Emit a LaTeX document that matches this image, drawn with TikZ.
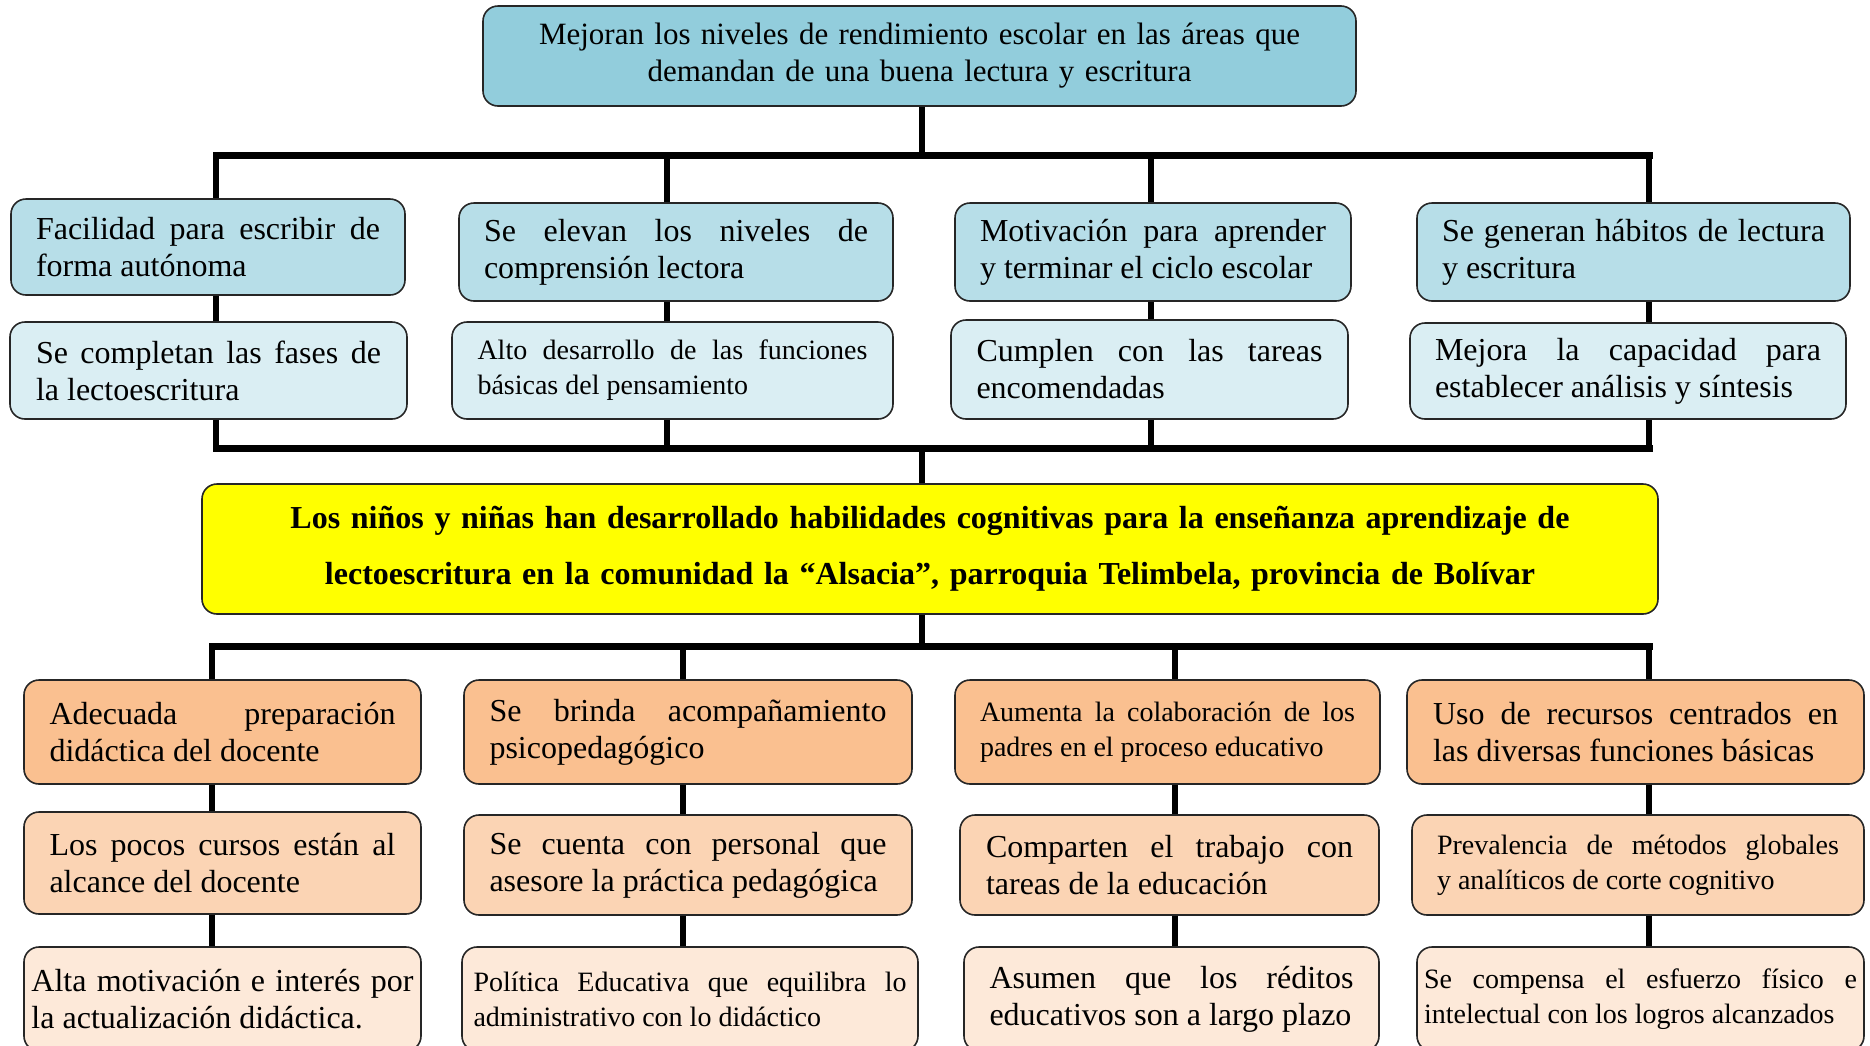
\documentclass[tikz,border=0pt]{standalone}
\usepackage{fontspec}
\setmainfont{Liberation Serif}
\hyphenpenalty=10000
\definecolor{azulcab}{HTML}{92CDDC}
\definecolor{azuluno}{HTML}{B7DEE8}
\definecolor{azuldos}{HTML}{DAEEF3}
\definecolor{amarillo}{HTML}{FFFF00}
\definecolor{naranjauno}{HTML}{FAC090}
\definecolor{naranjados}{HTML}{FBD4B4}
\definecolor{naranjatres}{HTML}{FDE9D9}
\newcommand{\textonormal}{\fontsize{16pt}{18.5pt}\selectfont}
\newcommand{\textochico}{\fontsize{14pt}{17.5pt}\selectfont}
\tikzset{
  caja/.style={draw=black!85, line width=0.8pt, rounded corners=7.5pt, inner sep=0pt,
    align=justify, font=\textonormal},
  medidas/.style n args={3}{minimum width=#1pt, minimum height=#2pt, text width=#3pt},
  chico/.style={font=\textochico},
  conector/.style={line width=3pt},
  barra/.style={line width=3.5pt, line cap=rect},
}
\begin{document}
\begin{tikzpicture}[x=0.5pt, y=-0.5pt]
  \useasboundingbox (0,0) rectangle (1870,1045);
  \clip (0,0) rectangle (1870,1045);

  \node[caja, fill=azulcab, medidas={436.5}{50}{430}, align=center,
    font=\fontsize{15.5pt}{18.5pt}\selectfont] (T) at (919.5,56)
    {Mejoran los niveles de rendimiento escolar en las áreas que\\demandan de una buena lectura y escritura};

  \node[caja, fill=azuluno, medidas={197}{48}{172}] (A1) at (208,247)
    {Facilidad para escribir de \linebreak forma autónoma};
  \node[caja, fill=azuluno, medidas={217}{49}{192}] (B1) at (676,252)
    {Se elevan los niveles de \linebreak comprensión lectora};
  \node[caja, fill=azuluno, medidas={198}{49}{173}] (C1) at (1153,252)
    {Motivación para aprender \linebreak y terminar el ciclo escolar};
  \node[caja, fill=azuluno, medidas={216.5}{49}{191.5}] (D1) at (1633.5,252)
    {Se generan hábitos de lectura \linebreak y escritura};

  \node[caja, fill=azuldos, medidas={198.5}{48.5}{172.5}] (A2) at (208.5,370.5)
    {Se completan las fases de \linebreak la lectoescritura};
  \node[caja, chico, fill=azuldos, medidas={220.5}{48.5}{195}] (B2) at (672.5,370.5)
    {Alto desarrollo de las funciones \linebreak básicas del pensamiento};
  \node[caja, fill=azuldos, medidas={198.5}{49.5}{173}] (C2) at (1149.5,369.5)
    {Cumplen con las tareas \linebreak encomendadas};
  \node[caja, fill=azuldos, medidas={218}{48}{193}] (D2) at (1628,371)
    {Mejora la capacidad para \linebreak establecer análisis y síntesis};

  \node[caja, fill=amarillo, medidas={728}{65}{715}, align=center,
    font=\fontsize{16pt}{28pt}\selectfont\bfseries] (Y) at (930,549)
    {Los niños y niñas han desarrollado habilidades cognitivas para la enseñanza aprendizaje de\\
     lectoescritura en la comunidad la “Alsacia”, parroquia Telimbela, provincia de Bolívar};

  \node[caja, fill=naranjauno, medidas={198.5}{52}{173}] (E1) at (222.5,732)
    {Adecuada preparación \linebreak didáctica del docente};
  \node[caja, fill=naranjauno, medidas={224}{52}{198.5}] (F1) at (688,732)
    {Se brinda acompañamiento \linebreak psicopedagógico};
  \node[caja, chico, fill=naranjauno, medidas={212.5}{52}{187.5}] (G1) at (1167.5,732)
    {Aumenta la colaboración de los \linebreak padres en el proceso educativo};
  \node[caja, fill=naranjauno, medidas={228.5}{52}{202.5}] (H1) at (1635.5,732)
    {Uso de recursos centrados en \linebreak las diversas funciones básicas};

  \node[caja, fill=naranjados, medidas={198.5}{51}{173}] (E2) at (222.5,863)
    {Los pocos cursos están al \linebreak alcance del docente};
  \node[caja, fill=naranjados, medidas={224}{50}{198.5}] (F2) at (688,865)
    {Se cuenta con personal que \linebreak asesore la práctica pedagógica};
  \node[caja, fill=naranjados, medidas={209.5}{50}{183.5}] (G2) at (1169.5,865)
    {Comparten el trabajo con \linebreak tareas de la educación};
  \node[caja, chico, fill=naranjados, medidas={226}{50}{201}] (H2) at (1638,865)
    {Prevalencia de métodos globales \linebreak y analíticos de corte cognitivo};

  \node[caja, fill=naranjatres, medidas={198.5}{52}{191}] (E3) at (222.5,999)
    {Alta motivación e interés por \linebreak la actualización didáctica.};
  \node[caja, chico, fill=naranjatres, medidas={228}{52}{216.5}] (F3) at (690,999)
    {Política Educativa que equilibra lo \linebreak administrativo con lo didáctico};
  \node[caja, fill=naranjatres, medidas={207.5}{52}{182}] (G3) at (1171.5,999)
    {Asumen que los réditos \linebreak educativos son a largo plazo};
  \node[caja, chico, fill=naranjatres, medidas={223.5}{52}{216.5}] (H3) at (1640.5,999)
    {Se compensa el esfuerzo físico e \linebreak intelectual con los logros alcanzados};

  % barras y columnas
  \coordinate (s) at (922,155);
  \coordinate (i) at (922,448);
  \coordinate (m) at (922,646);
  \coordinate (sA) at (216,155);  \coordinate (iA) at (216,448);
  \coordinate (sB) at (667,155);  \coordinate (iB) at (667,448);
  \coordinate (sC) at (1151,155); \coordinate (iC) at (1151,448);
  \coordinate (sD) at (1649,155); \coordinate (iD) at (1649,448);
  \coordinate (pE) at (212,646);
  \coordinate (pF) at (683,646);
  \coordinate (pG) at (1175,646);
  \coordinate (pH) at (1649,646);

  \draw[conector] (T.south -| s) -- (s);
  \draw[barra] (sA) -- (sD);
  \foreach \c in {A,B,C,D}{
    \draw[conector] (s\c) -- (s\c |- \c1.north);
    \draw[conector] (\c1.south -| s\c) -- (\c2.north -| s\c);
    \draw[conector] (\c2.south -| s\c) -- (i\c);
  }
  \draw[barra] (iA) -- (iD);
  \draw[conector] (i) -- (Y.north -| i);

  \draw[conector] (Y.south -| m) -- (m);
  \draw[barra] (pE) -- (pH);
  \foreach \c in {E,F,G,H}{
    \draw[conector] (p\c) -- (p\c |- \c1.north);
    \draw[conector] (\c1.south -| p\c) -- (\c2.north -| p\c);
    \draw[conector] (\c2.south -| p\c) -- (\c3.north -| p\c);
  }
\end{tikzpicture}
\end{document}
